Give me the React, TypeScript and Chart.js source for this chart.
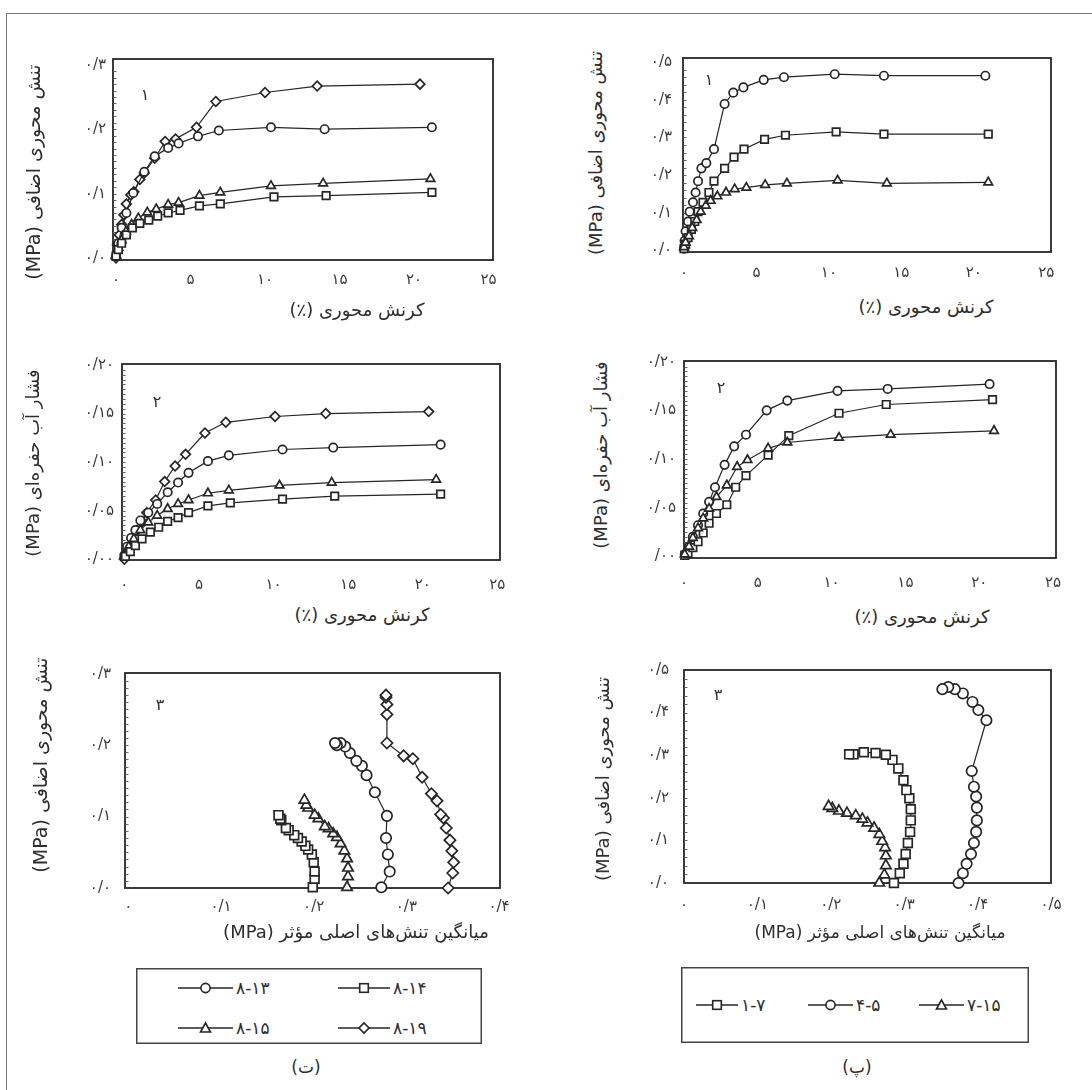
import React, { useEffect, useRef } from "react";
import { Chart, registerables } from "chart.js";
Chart.register(...registerables);

// ---------------- DATA ----------------
// Axis tick values and labels
const strainTicks = [0, 5, 10, 15, 20, 25];
const strainTickLabels = ["۰", "۵", "۱۰", "۱۵", "۲۰", "۲۵"];
const q03Ticks = [0, 0.1, 0.2, 0.3];
const q03Labels = ["۰/۰", "۰/۱", "۰/۲", "۰/۳"];
const q05Ticks = [0, 0.1, 0.2, 0.3, 0.4, 0.5];
const q05Labels = ["۰/۰", "۰/۱", "۰/۲", "۰/۳", "۰/۴", "۰/۵"];
const u02Ticks = [0, 0.05, 0.1, 0.15, 0.2];
const u02LabelsT = ["۰/۰۰", "۰/۰۵", "۰/۱۰", "۰/۱۵", "۰/۲۰"];
const u02LabelsP = ["/۰۰", "۰/۰۵", "۰/۱۰", "۰/۱۵", "۰/۲۰"];
const p04Ticks = [0, 0.1, 0.2, 0.3, 0.4];
const p04Labels = ["۰", "۰/۱", "۰/۲", "۰/۳", "۰/۴"];
const p05Ticks = [0, 0.1, 0.2, 0.3, 0.4, 0.5];
const p05Labels = ["۰", "۰/۱", "۰/۲", "۰/۳", "۰/۴", "۰/۵"];

// (ت) panel 1: axial strain (%) vs deviator stress (MPa)
const t1Strain_813 = [0, 0.16, 0.38, 0.7, 1.16, 1.9, 2.6, 3.5, 4.2, 5.5, 6.9, 10.4, 14.0, 21.2];
const t1Q_813 = [0.003, 0.023, 0.047, 0.07, 0.101, 0.134, 0.158, 0.171, 0.178, 0.189, 0.198, 0.203, 0.2, 0.203];
const t1Strain_814 = [0, 0.16, 0.38, 0.7, 1.1, 1.6, 2.2, 2.8, 3.5, 4.3, 5.6, 7.0, 10.6, 14.1, 21.2];
const t1Q_814 = [0.003, 0.013, 0.023, 0.036, 0.047, 0.054, 0.059, 0.065, 0.07, 0.074, 0.081, 0.084, 0.095, 0.097, 0.102];
const t1Strain_815 = [0, 0.16, 0.38, 0.67, 1.05, 1.5, 2.1, 2.7, 3.5, 4.2, 5.6, 7.0, 10.4, 13.9, 21.1];
const t1Q_815 = [0.003, 0.016, 0.028, 0.041, 0.052, 0.062, 0.071, 0.076, 0.083, 0.086, 0.097, 0.102, 0.112, 0.116, 0.123];
const t1Strain_819 = [0, 0.09, 0.22, 0.38, 0.54, 0.7, 1.0, 1.2, 1.6, 1.9, 2.6, 3.3, 4.0, 5.4, 6.7, 10.0, 13.5, 20.4];
const t1Q_819 = [0.0, 0.021, 0.036, 0.052, 0.067, 0.084, 0.098, 0.103, 0.122, 0.132, 0.155, 0.181, 0.185, 0.203, 0.243, 0.257, 0.267, 0.27];

// (ت) panel 2: axial strain (%) vs pore water pressure (MPa)
const t2Strain_813 = [0, 0.18, 0.45, 0.74, 1.07, 1.6, 2.2, 2.9, 3.6, 4.3, 5.6, 7.0, 10.6, 14.0, 21.2];
const t2U_813 = [0.004, 0.013, 0.022, 0.03, 0.04, 0.048, 0.057, 0.069, 0.079, 0.089, 0.101, 0.107, 0.113, 0.115, 0.118];
const t2Strain_814 = [0.07, 0.4, 0.74, 1.18, 1.74, 2.3, 2.9, 3.6, 4.3, 5.6, 7.1, 10.6, 14.1, 21.2];
const t2U_814 = [0.003, 0.008, 0.014, 0.021, 0.028, 0.033, 0.039, 0.043, 0.048, 0.055, 0.058, 0.062, 0.065, 0.067];
const t2Strain_815 = [0, 0.29, 0.63, 1.07, 1.6, 2.2, 2.9, 3.6, 4.3, 5.6, 7.0, 10.4, 13.9, 20.9];
const t2U_815 = [0.004, 0.013, 0.021, 0.03, 0.038, 0.045, 0.052, 0.057, 0.061, 0.068, 0.071, 0.076, 0.079, 0.082];
const t2Strain_819 = [0, 0.07, 0.3, 0.5, 0.85, 1.2, 1.5, 2.1, 2.7, 3.4, 4.1, 5.4, 6.8, 10.1, 13.5, 20.4];
const t2U_819 = [0, 0.006, 0.013, 0.021, 0.03, 0.039, 0.048, 0.061, 0.08, 0.096, 0.108, 0.13, 0.141, 0.147, 0.15, 0.152];

// (ت) panel 3: mean effective principal stress (MPa) vs deviator stress (MPa)
const t3P_813 = [0.273, 0.282, 0.28, 0.278, 0.279, 0.266, 0.257, 0.252, 0.246, 0.239, 0.234, 0.229, 0.225, 0.223];
const t3Q_813 = [0.001, 0.023, 0.047, 0.07, 0.101, 0.134, 0.158, 0.171, 0.178, 0.189, 0.198, 0.203, 0.2, 0.203];
const t3P_814 = [0.199, 0.201, 0.201, 0.2, 0.198, 0.194, 0.191, 0.187, 0.183, 0.179, 0.173, 0.17, 0.165, 0.164, 0.162];
const t3Q_814 = [0.001, 0.013, 0.023, 0.036, 0.047, 0.054, 0.059, 0.065, 0.07, 0.074, 0.081, 0.084, 0.095, 0.097, 0.102];
const t3P_815 = [0.236, 0.237, 0.237, 0.236, 0.233, 0.229, 0.225, 0.221, 0.216, 0.212, 0.205, 0.201, 0.194, 0.192, 0.19];
const t3Q_815 = [0.001, 0.016, 0.028, 0.041, 0.052, 0.062, 0.071, 0.076, 0.083, 0.086, 0.097, 0.102, 0.112, 0.116, 0.123];
const t3P_819 = [0.345, 0.35, 0.351, 0.349, 0.347, 0.343, 0.34, 0.337, 0.333, 0.327, 0.317, 0.307, 0.297, 0.279, 0.279, 0.279, 0.278, 0.278];
const t3Q_819 = [0.0, 0.021, 0.036, 0.052, 0.067, 0.084, 0.098, 0.103, 0.122, 0.132, 0.155, 0.181, 0.185, 0.203, 0.243, 0.257, 0.267, 0.27];

// (پ) panel 1
const p1Strain_17 = [0, 0.11, 0.28, 0.51, 0.74, 0.97, 1.31, 1.72, 2.07, 2.8, 3.45, 4.14, 5.56, 7.0, 10.5, 13.8, 21.0];
const p1Q_17 = [0.005, 0.017, 0.034, 0.056, 0.077, 0.103, 0.128, 0.154, 0.184, 0.218, 0.248, 0.269, 0.295, 0.306, 0.315, 0.309, 0.309];
const p1Strain_45 = [0, 0.04, 0.11, 0.28, 0.39, 0.62, 0.8, 0.97, 1.2, 1.54, 2.07, 2.8, 3.4, 4.1, 5.5, 6.9, 10.4, 13.8, 20.8];
const p1Q_45 = [0.005, 0.026, 0.051, 0.077, 0.103, 0.128, 0.154, 0.184, 0.218, 0.232, 0.269, 0.389, 0.419, 0.433, 0.453, 0.46, 0.468, 0.464, 0.464];
const p1Strain_715 = [0, 0.11, 0.34, 0.57, 0.87, 1.15, 1.5, 1.84, 2.3, 2.9, 3.5, 4.3, 5.6, 7.1, 10.6, 14.0, 21.0];
const p1Q_715 = [0.009, 0.021, 0.038, 0.06, 0.081, 0.103, 0.119, 0.132, 0.144, 0.154, 0.163, 0.167, 0.174, 0.178, 0.186, 0.178, 0.181];

// (پ) panel 2
const p2Strain_17 = [0.05, 0.27, 0.6, 0.95, 1.3, 1.7, 2.2, 2.9, 3.5, 4.2, 5.7, 7.1, 10.5, 13.7, 20.9];
const p2U_17 = [0.001, 0.003, 0.009, 0.015, 0.024, 0.034, 0.044, 0.053, 0.071, 0.083, 0.104, 0.124, 0.147, 0.156, 0.161];
const p2Strain_45 = [0.05, 0.34, 0.6, 0.95, 1.3, 1.7, 2.1, 2.75, 3.4, 4.2, 5.6, 7.0, 10.4, 13.8, 20.7];
const p2U_45 = [0.002, 0.01, 0.02, 0.032, 0.044, 0.056, 0.071, 0.094, 0.113, 0.125, 0.15, 0.16, 0.17, 0.172, 0.177];
const p2Strain_715 = [0.05, 0.34, 0.6, 0.95, 1.3, 1.7, 2.2, 2.9, 3.6, 4.3, 5.7, 7.0, 10.5, 14.0, 21.0];
const p2U_715 = [0.002, 0.01, 0.019, 0.029, 0.039, 0.049, 0.061, 0.073, 0.092, 0.099, 0.111, 0.117, 0.122, 0.125, 0.129];

// (پ) panel 3
const p3P_17 = [0.286, 0.294, 0.299, 0.302, 0.305, 0.308, 0.309, 0.309, 0.307, 0.303, 0.299, 0.292, 0.284, 0.275, 0.261, 0.245, 0.231, 0.225];
const p3Q_17 = [0, 0.023, 0.045, 0.068, 0.094, 0.12, 0.147, 0.173, 0.199, 0.218, 0.241, 0.269, 0.289, 0.301, 0.305, 0.307, 0.302, 0.302];
const p3P_45 = [0.374, 0.38, 0.385, 0.391, 0.395, 0.398, 0.399, 0.399, 0.398, 0.395, 0.392, 0.412, 0.401, 0.393, 0.38, 0.369, 0.36, 0.352];
const p3Q_45 = [0, 0.023, 0.045, 0.068, 0.094, 0.12, 0.147, 0.177, 0.203, 0.226, 0.263, 0.382, 0.406, 0.425, 0.445, 0.455, 0.46, 0.455];
const p3P_715 = [0.266, 0.273, 0.275, 0.275, 0.274, 0.27, 0.266, 0.259, 0.25, 0.243, 0.234, 0.222, 0.211, 0.202, 0.197];
const p3Q_715 = [0, 0.019, 0.041, 0.064, 0.083, 0.098, 0.114, 0.129, 0.141, 0.15, 0.158, 0.164, 0.169, 0.175, 0.18];

// Texts
const yTitleQ = "تنش محوری اضافی (MPa)";
const yTitleU = "فشار آب حفره‌ای (MPa)";
const xTitleStrain = "کرنش محوری (٪)";
const xTitleP = "میانگین تنش‌های اصلی مؤثر (MPa)";

// ---------------- COMPONENTS ----------------
type Style = "circle" | "rect" | "triangle" | "rectRot";
type Series = { xs: number[]; ys: number[]; style: Style };
type Box = { L: number; T: number; R: number; B: number };

const INK = "#262626";
const FONT = '"DejaVu Sans", sans-serif';

const RAD_SMALL: Record<Style, number> = { circle: 4.2, rect: 5.3, triangle: 5.0, rectRot: 4.8 };
const RAD_BIG: Record<Style, number> = { circle: 5.2, rect: 6.2, triangle: 6.0, rectRot: 5.6 };

type PanelProps = {
  box: Box;
  xMin: number; xMax: number; yMin: number; yMax: number;
  xTicks: number[]; xLabels: string[];
  yTicks: number[]; yLabels: string[];
  series: Series[];
  minorStep: number;
  xPad: number; yPad: number;
  big?: boolean;
};

const LEFT_W = 72, TOP_P = 16, RIGHT_P = 24, BOTTOM_H = 40;

function Panel(p: PanelProps) {
  const ref = useRef<HTMLCanvasElement>(null);
  const cl = p.box.L - LEFT_W;
  const ct = p.box.T - TOP_P;
  const cw = p.box.R + RIGHT_P - cl;
  const ch = p.box.B + BOTTOM_H - ct;
  useEffect(() => {
    if (!ref.current) return;
    const radii = p.big ? RAD_BIG : RAD_SMALL;
    const frame = {
      id: "frame",
      beforeDatasetsDraw(chart: any) {
        const { ctx, chartArea: a } = chart;
        const ys = chart.scales.y;
        ctx.save();
        ctx.strokeStyle = INK;
        ctx.lineWidth = 1.8;
        ctx.strokeRect(a.left, a.top, a.right - a.left, a.bottom - a.top);
        ctx.lineWidth = 0.9;
        ctx.strokeStyle = "#555";
        const n = Math.round((p.yTicks[p.yTicks.length - 1] - p.yTicks[0]) / p.minorStep);
        for (let i = 1; i < n; i++) {
          const v = p.yTicks[0] + i * p.minorStep;
          const py = Math.round(ys.getPixelForValue(v)) + 0.5;
          ctx.beginPath();
          ctx.moveTo(a.left, py);
          ctx.lineTo(a.left + 3.5, py);
          ctx.stroke();
        }
        ctx.restore();
      },
    };
    const chart = new Chart(ref.current, {
      type: "scatter",
      data: {
        datasets: p.series.map((s) => ({
          data: s.xs.map((x, i) => ({ x, y: s.ys[i] })),
          showLine: true,
          borderColor: INK,
          borderWidth: 1.2,
          pointStyle: s.style,
          pointRadius: radii[s.style],
          pointBorderWidth: 1.7,
          pointBackgroundColor: "#ffffff",
          pointBorderColor: INK,
          clip: false as any,
          tension: 0,
        })),
      },
      options: {
        responsive: false,
        animation: false,
        events: [],
        layout: { padding: { left: 0, top: TOP_P, right: RIGHT_P, bottom: 0 } },
        plugins: { legend: { display: false }, tooltip: { enabled: false } },
        scales: {
          x: {
            type: "linear",
            min: p.xMin,
            max: p.xMax,
            grid: { display: false, drawTicks: false },
            border: { display: false },
            ticks: {
              autoSkip: false,
              maxRotation: 0,
              padding: p.xPad,
              color: "#3a3a3a",
              font: { family: FONT, size: 15 },
              callback: (_v: any, i: number) => p.xLabels[i],
            },
            afterBuildTicks: (s: any) => {
              s.ticks = p.xTicks.map((v) => ({ value: v }));
            },
            afterFit: (s: any) => {
              s.height = BOTTOM_H;
            },
          },
          y: {
            type: "linear",
            min: p.yMin,
            max: p.yMax,
            grid: { display: false, drawTicks: false },
            border: { display: false },
            ticks: {
              autoSkip: false,
              padding: p.yPad,
              color: "#3a3a3a",
              font: { family: FONT, size: 15 },
              callback: (_v: any, i: number) => p.yLabels[i],
            },
            afterBuildTicks: (s: any) => {
              s.ticks = p.yTicks.map((v) => ({ value: v }));
            },
            afterFit: (s: any) => {
              s.width = LEFT_W;
            },
          },
        },
      },
      plugins: [frame],
    } as any);
    return () => chart.destroy();
  }, []);
  return (
    <canvas
      ref={ref}
      width={cw}
      height={ch}
      style={{ position: "absolute", left: cl, top: ct, width: cw, height: ch }}
    />
  );
}

function Txt(props: { x: number; y: number; text: string; size?: number; rot?: boolean; rtl?: boolean; color?: string }) {
  return (
    <div
      dir={props.rtl ? "rtl" : "ltr"}
      style={{
        position: "absolute",
        left: props.x,
        top: props.y,
        transform: `translate(-50%, -50%)${props.rot ? " rotate(-90deg)" : ""}`,
        whiteSpace: "nowrap",
        fontFamily: FONT,
        fontSize: props.size ?? 15,
        color: props.color ?? "#2e2e2e",
        lineHeight: 1,
      }}
    >
      {props.text}
    </div>
  );
}

function MarkerSvg({ style, cx, cy }: { style: Style; cx: number; cy: number }) {
  const common = { fill: "#fff", stroke: INK, strokeWidth: 1.6 };
  if (style === "circle") return <circle cx={cx} cy={cy} r={4.6} {...common} />;
  if (style === "rect") return <rect x={cx - 4.3} y={cy - 4.3} width={8.6} height={8.6} {...common} />;
  if (style === "triangle")
    return <polygon points={`${cx},${cy - 5} ${cx + 5},${cy + 4} ${cx - 5},${cy + 4}`} {...common} />;
  return <polygon points={`${cx},${cy - 5} ${cx + 5},${cy} ${cx},${cy + 5} ${cx - 5},${cy}`} {...common} />;
}

type LegendItem = { style: Style; x1: number; x2: number; y: number; text: string };

function Legend({ left, top, w, h, items }: { left: number; top: number; w: number; h: number; items: LegendItem[] }) {
  return (
    <svg
      width={w}
      height={h}
      style={{ position: "absolute", left, top, overflow: "visible" }}
    >
      <rect x={0.75} y={0.75} width={w - 1.5} height={h - 1.5} fill="#fff" stroke="#444" strokeWidth={1.5} />
      {items.map((it, i) => (
        <g key={i}>
          <line x1={it.x1} x2={it.x2} y1={it.y} y2={it.y} stroke={INK} strokeWidth={1.4} />
          <MarkerSvg style={it.style} cx={(it.x1 + it.x2) / 2} cy={it.y} />
          <text x={it.x2 + 3} y={it.y + 6} fontFamily={FONT} fontSize={17} fill="#2e2e2e" direction="ltr">
            {it.text}
          </text>
        </g>
      ))}
    </svg>
  );
}

export default function App() {
  return (
    <div
      style={{
        position: "absolute",
        left: 0,
        top: 0,
        width: 1092,
        height: 1090,
        background: "#fff",
        overflow: "hidden",
        fontFamily: FONT,
      }}
    >
      {/* outer frame */}
      <div
        style={{
          position: "absolute",
          left: 6,
          top: 13,
          width: 1200,
          height: 1200,
          borderLeft: "1.5px solid #777",
          borderTop: "1.5px solid #777",
        }}
      />

      {/* (ت) panel 1 */}
      <Panel
        box={{ L: 113, T: 59, R: 493, B: 260 }}
        xMin={-0.2} xMax={25.3} yMin={-0.003} yMax={0.309}
        xTicks={strainTicks} xLabels={strainTickLabels}
        yTicks={q03Ticks} yLabels={q03Labels}
        minorStep={0.01} xPad={11} yPad={7}
        series={[
          { xs: t1Strain_814, ys: t1Q_814, style: "rect" },
          { xs: t1Strain_815, ys: t1Q_815, style: "triangle" },
          { xs: t1Strain_813, ys: t1Q_813, style: "circle" },
          { xs: t1Strain_819, ys: t1Q_819, style: "rectRot" },
        ]}
      />
      {/* (پ) panel 1 */}
      <Panel
        box={{ L: 683, T: 54, R: 1051, B: 252 }}
        xMin={-0.07} xMax={25.33} yMin={-0.004} yMax={0.511}
        xTicks={strainTicks} xLabels={strainTickLabels}
        yTicks={q05Ticks} yLabels={q05Labels}
        minorStep={0.02} xPad={12} yPad={11}
        series={[
          { xs: p1Strain_715, ys: p1Q_715, style: "triangle" },
          { xs: p1Strain_17, ys: p1Q_17, style: "rect" },
          { xs: p1Strain_45, ys: p1Q_45, style: "circle" },
        ]}
      />
      {/* (ت) panel 2 */}
      <Panel
        box={{ L: 122, T: 363, R: 500, B: 560 }}
        xMin={-0.16} xMax={25.18} yMin={-0.0007} yMax={0.201}
        xTicks={strainTicks} xLabels={strainTickLabels}
        yTicks={u02Ticks} yLabels={u02LabelsT}
        minorStep={0.005} xPad={16} yPad={8}
        series={[
          { xs: t2Strain_814, ys: t2U_814, style: "rect" },
          { xs: t2Strain_815, ys: t2U_815, style: "triangle" },
          { xs: t2Strain_813, ys: t2U_813, style: "circle" },
          { xs: t2Strain_819, ys: t2U_819, style: "rectRot" },
        ]}
      />
      {/* (پ) panel 2 */}
      <Panel
        box={{ L: 684, T: 360, R: 1056, B: 558 }}
        xMin={0} xMax={25.2} yMin={-0.0017} yMax={0.2007}
        xTicks={strainTicks} xLabels={strainTickLabels}
        yTicks={u02Ticks} yLabels={u02LabelsP}
        minorStep={0.005} xPad={16} yPad={8}
        series={[
          { xs: p2Strain_715, ys: p2U_715, style: "triangle" },
          { xs: p2Strain_17, ys: p2U_17, style: "rect" },
          { xs: p2Strain_45, ys: p2U_45, style: "circle" },
        ]}
      />
      {/* (ت) panel 3 */}
      <Panel
        box={{ L: 125, T: 666, R: 500, B: 888 }}
        xMin={-0.0036} xMax={0.401} yMin={0} yMax={0.301}
        xTicks={p04Ticks} xLabels={p04Labels}
        yTicks={q03Ticks} yLabels={q03Labels}
        minorStep={0.01} xPad={10} yPad={14}
        big
        series={[
          { xs: t3P_814, ys: t3Q_814, style: "rect" },
          { xs: t3P_815, ys: t3Q_815, style: "triangle" },
          { xs: t3P_813, ys: t3Q_813, style: "circle" },
          { xs: t3P_819, ys: t3Q_819, style: "rectRot" },
        ]}
      />
      {/* (پ) panel 3 */}
      <Panel
        box={{ L: 684, T: 662, R: 1051, B: 883 }}
        xMin={0} xMax={0.5} yMin={0} yMax={0.5}
        xTicks={p05Ticks} xLabels={p05Labels}
        yTicks={q05Ticks} yLabels={q05Labels}
        minorStep={0.02} xPad={13} yPad={15}
        big
        series={[
          { xs: p3P_715, ys: p3Q_715, style: "triangle" },
          { xs: p3P_17, ys: p3Q_17, style: "rect" },
          { xs: p3P_45, ys: p3Q_45, style: "circle" },
        ]}
      />

      {/* panel numbers */}
      <Txt x={145} y={95} text="۱" size={16} />
      <Txt x={709} y={80} text="۱" size={16} />
      <Txt x={157} y={402} text="۲" size={16} />
      <Txt x={721} y={388} text="۲" size={16} />
      <Txt x={160} y={705} text="۳" size={16} />
      <Txt x={718} y={695} text="۳" size={16} />

      {/* axis titles */}
      <Txt x={33} y={172} text={yTitleQ} rot rtl size={19} />
      <Txt x={357} y={310} text={xTitleStrain} rtl size={18} />
      <Txt x={596} y={153} text={yTitleQ} rot rtl size={18} />
      <Txt x={926} y={307} text={xTitleStrain} rtl size={18} />
      <Txt x={33} y={463} text={yTitleU} rot rtl size={18} />
      <Txt x={362} y={615} text={xTitleStrain} rtl size={18} />
      <Txt x={601} y={455} text={yTitleU} rot rtl size={18} />
      <Txt x={922} y={617} text={xTitleStrain} rtl size={18} />
      <Txt x={40} y={765} text={yTitleQ} rot rtl size={19} />
      <Txt x={356} y={932} text={xTitleP} rtl size={18} />
      <Txt x={603} y={779} text={yTitleQ} rot rtl size={18} />
      <Txt x={880} y={932} text={xTitleP} rtl size={17} />

      {/* legends */}
      <Legend
        left={136}
        top={968}
        w={346}
        h={76}
        items={[
          { style: "circle", x1: 42, x2: 97, y: 20, text: "۸-۱۳" },
          { style: "rect", x1: 202, x2: 254, y: 20, text: "۸-۱۴" },
          { style: "triangle", x1: 42, x2: 97, y: 60, text: "۸-۱۵" },
          { style: "rectRot", x1: 202, x2: 254, y: 60, text: "۸-۱۹" },
        ]}
      />
      <Legend
        left={681}
        top={967}
        w={348}
        h={76}
        items={[
          { style: "rect", x1: 15, x2: 57, y: 38, text: "۱-۷" },
          { style: "circle", x1: 127, x2: 172, y: 38, text: "۴-۵" },
          { style: "triangle", x1: 238, x2: 283, y: 38, text: "۷-۱۵" },
        ]}
      />
      <Txt x={306} y={1067} text="(ت)" rtl size={17} />
      <Txt x={857} y={1067} text="(پ)" rtl size={17} />
    </div>
  );
}
